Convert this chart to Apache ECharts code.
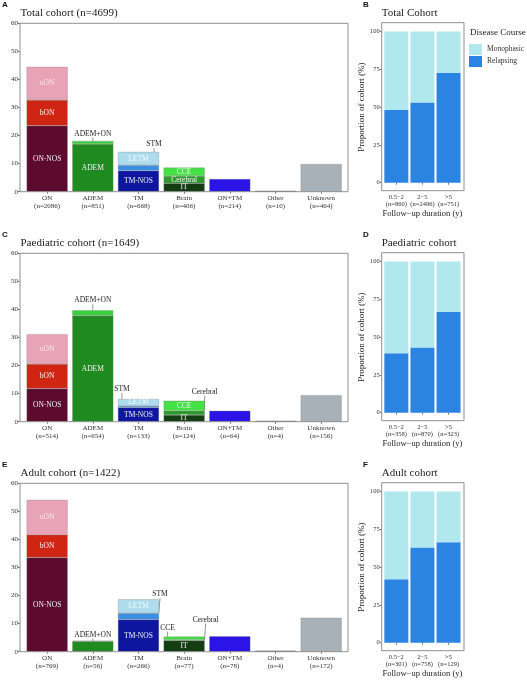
<!DOCTYPE html>
<html>
<head>
<meta charset="utf-8">
<script src="https://cdn.jsdelivr.net/npm/echarts@6/dist/echarts.min.js"></script>
<style>html,body{margin:0;padding:0;background:#fff}#c{width:527px;height:680px}</style>
</head>
<body>
<div id="c"></div>
<script>
// ---- Data ----
const categories = ['ON','ADEM','TM','Brain','ON+TM','Other','Unknown'];
const nTotal = [2086,851,668,406,214,10,464];
const nPaed  = [514,654,133,124,64,4,156];
const nAdult = [769,56,266,77,78,4,172];

const level1Names = ['ON-NOS','ADEM','TM-NOS','IT','ON+TM','Other','Unknown'];
const level2Names = ['bON','ADEM+ON','STM','Cerebral',null,null,null];
const level3Names = ['uON',null,'LETM','CCE',null,null,null];

const totalL1 = [23.5,17.0,7.5,3.0,4.55,0.21,9.87];
const totalL2 = [9.2,1.1,1.9,2.6,null,null,null];
const totalL3 = [11.8,null,4.8,3.0,null,null,null];

const paedL1 = [11.8,37.8,5.1,2.4,3.9,0.24,9.46];
const paedL2 = [8.8,1.9,0.5,1.5,null,null,null];
const paedL3 = [10.6,null,2.5,3.6,null,null,null];

const adultL1 = [33.6,3.7,11.5,4.0,5.5,0.28,12.1];
const adultL2 = [8.1,0.2,2.2,0.3,null,null,null];
const adultL3 = [12.4,null,5.0,1.1,null,null,null];

const durCats = ['0.5\u22122','2\u22125','>5'];
const durNTotal = [860,2496,751];
const durNPaed  = [358,870,323];
const durNAdult = [301,758,129];
const relTotal  = [48.1,53.0,72.8];
const monoTotal = [51.9,47.0,27.2];
const relPaed   = [39.4,43.1,66.7];
const monoPaed  = [60.6,56.9,33.3];
const relAdult  = [42.0,63.0,66.5];
const monoAdult = [58.0,37.0,33.5];

// ---- Styles / layout ----
const segColors = {
  'ON-NOS':'#5C0A2E','bON':'#CF2512','uON':'#E8A3B6',
  'ADEM':'#1F8A1F','ADEM+ON':'#3AD23A',
  'TM-NOS':'#0E16A0','STM':'#3B8FE3','LETM':'#AEDCEC',
  'IT':'#143D14','Cerebral':'#2C9C2C','CCE':'#45E045',
  'ON+TM':'#2A14E6','Other':'#8C8C8C','Unknown':'#A8B1B7'
};
const insideLabelColor = {'uON':'#fbe6ec','LETM':'#f4fbfd','CCE':'#e8fbe8'};
const SERIF = 'Liberation Serif';
const rowOff = [0,230,460];

const rows = [
  {letter:'A', title:'Total cohort (n=4699)', n:nTotal, L:[totalL1,totalL2,totalL3],
   inside:['ON-NOS','bON','uON','ADEM','TM-NOS','LETM','IT','Cerebral','CCE'],
   outside:{'ADEM+ON':['c',0,-7],'STM':['r',-5,-21]},
   rLetter:'B', rTitle:'Total Cohort', rN:durNTotal, rel:relTotal, mono:monoTotal},
  {letter:'C', title:'Paediatric cohort (n=1649)', n:nPaed, L:[paedL1,paedL2,paedL3],
   inside:['ON-NOS','bON','uON','ADEM','TM-NOS','LETM','IT','CCE'],
   outside:{'ADEM+ON':['c',0,-10],'STM':['l',4,-17],'Cerebral':['r',0,-19]},
   rLetter:'D', rTitle:'Paediatric cohort', rN:durNPaed, rel:relPaed, mono:monoPaed},
  {letter:'E', title:'Adult cohort (n=1422)', n:nAdult, L:[adultL1,adultL2,adultL3],
   inside:['ON-NOS','bON','uON','TM-NOS','LETM','IT'],
   outside:{'ADEM+ON':['c',0,-6],'STM':['r',1,-19],'CCE':['l',4,-9],'Cerebral':['r',1,-20]},
   rLetter:'F', rTitle:'Adult cohort', rN:durNAdult, rel:relAdult, mono:monoAdult}
];
const levelNames = [level1Names, level2Names, level3Names];

const grids = [], xAxes = [], yAxes = [], series = [], titles = [], graphics = [];

rows.forEach((row, i) => {
  const off = rowOff[i];
  grids.push({left:24.3, width:319.7, top:23.3+off, height:168.4, containLabel:false, outerBoundsMode:'none'});
  grids.push({left:383.3, width:78.3, top:31.6+off, height:151.1, containLabel:false, outerBoundsMode:'none'});
  const gL = i*2, gR = i*2+1;

  graphics.push({type:'rect', shape:{x:20, y:23.3+off, width:328, height:168.4},
    style:{fill:'none', stroke:'#8f8f8f', lineWidth:1}, silent:true, z:10});
  graphics.push({type:'rect', shape:{x:381.7, y:22.7+off, width:82.3, height:168},
    style:{fill:'none', stroke:'#8f8f8f', lineWidth:1}, silent:true, z:10});

  titles.push({text:row.letter, left:2, top:1+off, padding:0,
    textStyle:{fontFamily:'Liberation Sans', fontWeight:'bold', fontSize:8, color:'#111'}});
  titles.push({text:row.title, left:20.5, top:8+off, padding:0,
    textStyle:{fontFamily:SERIF, fontWeight:'normal', fontSize:11, color:'#222'}});
  titles.push({text:row.rLetter, left:363, top:1+off, padding:0,
    textStyle:{fontFamily:'Liberation Sans', fontWeight:'bold', fontSize:8, color:'#111'}});
  titles.push({text:row.rTitle, left:381.7, top:8+off, padding:0,
    textStyle:{fontFamily:SERIF, fontWeight:'normal', fontSize:11, color:'#222'}});

  xAxes.push({type:'category', gridIndex:gL,
    data: categories.map((c,k)=>c+'\n(n='+row.n[k]+')'),
    axisLine:{show:false}, axisTick:{show:true, alignWithLabel:true, length:2, lineStyle:{color:'#777'}},
    axisLabel:{interval:0, fontFamily:SERIF, fontSize:7, lineHeight:7.8, color:'#333', margin:3}});
  yAxes.push({type:'value', gridIndex:gL, min:0, max:60, interval:10, offset:4.3,
    splitLine:{show:false}, axisLine:{show:false},
    axisTick:{show:true, length:2, lineStyle:{color:'#777'}},
    axisLabel:{fontFamily:SERIF, fontSize:7, color:'#333', margin:2},
    name:'Proportion of cohort (%)', nameLocation:'middle', nameGap:16,
    nameTextStyle:{fontFamily:SERIF, fontSize:9.5, color:'#222'}});

  xAxes.push({type:'category', gridIndex:gR, offset:8,
    data: durCats.map((c,k)=>c+'\n(n='+row.rN[k]+')'),
    axisLine:{show:false}, axisTick:{show:true, alignWithLabel:true, length:2, lineStyle:{color:'#777'}},
    axisLabel:{interval:0, fontFamily:SERIF, fontSize:6.5, lineHeight:7.2, color:'#333', margin:3},
    name:'Follow\u2212up duration (y)', nameLocation:'middle', nameGap:16,
    nameTextStyle:{fontFamily:SERIF, fontSize:8.5, color:'#222'}});
  yAxes.push({type:'value', gridIndex:gR, min:0, max:100, interval:25, offset:1.6,
    splitLine:{show:false}, axisLine:{show:false},
    axisTick:{show:true, length:2, lineStyle:{color:'#777'}},
    axisLabel:{fontFamily:SERIF, fontSize:6.5, color:'#333', margin:2},
    name:'Proportion of cohort (%)', nameLocation:'middle', nameGap:9,
    nameTextStyle:{fontFamily:SERIF, fontSize:9, color:'#222'}});

  row.L.forEach((vals, lv) => {
    const names = levelNames[lv];
    const data = vals.map((v,k) => {
      const nm = names[k];
      if (v == null || nm == null) return '-';
      const inside = row.inside.indexOf(nm) >= 0;
      const out = row.outside[nm];
      const item = {
        value: v, name: nm,
        itemStyle: {color: segColors[nm]},
        label: {show: inside || !!out, position: inside ? 'inside' : 'top',
          color: inside ? (insideLabelColor[nm] || '#f2f2f2') : '#222',
          fontSize: 7.5},
        labelLine: {show: !!out}
      };
      if (nm === 'Other') { item.itemStyle.borderColor = '#6f6f6f'; item.itemStyle.borderWidth = 0.9; }
      return item;
    });
    series.push({
      type:'bar', name:'L'+i+'_'+lv, xAxisIndex:gL, yAxisIndex:gL, stack:'L'+i,
      barCategoryGap:'10%', data,
      itemStyle:{borderColor:'rgba(120,120,120,0.6)', borderWidth:0.5},
      label:{show:false, fontFamily:SERIF, formatter:(p)=>p.data.name},
      labelLine:{show:false, lineStyle:{color:'#666', width:0.7}},
      labelLayout:(p) => {
        const item = data[p.dataIndex];
        if (!item || typeof item !== 'object') return {};
        const out = row.outside[item.name];
        if (!out) return {};
        const r = p.rect;
        const ax = out[0]==='c' ? r.x + r.width/2 : (out[0]==='r' ? r.x + r.width : r.x);
        return {x: ax + out[1], y: r.y + out[2], align:'center', verticalAlign:'middle'};
      },
      emphasis:{disabled:true}, animation:false
    });
  });

  series.push({type:'bar', name:'Relapsing', xAxisIndex:gR, yAxisIndex:gR, stack:'R'+i,
    barCategoryGap:'8%', data: row.rel, itemStyle:{color:'#2B84E1'}, emphasis:{disabled:true}, animation:false});
  series.push({type:'bar', name:'Monophasic', xAxisIndex:gR, yAxisIndex:gR, stack:'R'+i,
    barCategoryGap:'8%', data: row.mono, itemStyle:{color:'#B0E8EE'}, emphasis:{disabled:true}, animation:false});
});

graphics.push({type:'text', left:470, top:28, silent:true,
  style:{text:'Disease Course', font:'9px "Liberation Serif"', fill:'#222'}});

const chart = echarts.init(document.getElementById('c'), null, {renderer:'canvas'});
chart.setOption({
  animation:false,
  backgroundColor:'#fff',
  title: titles,
  grid: grids,
  xAxis: xAxes,
  yAxis: yAxes,
  legend: {data:['Monophasic','Relapsing'], orient:'vertical', left:469, top:44, padding:0,
    itemWidth:13, itemHeight:11, itemGap:1, icon:'rect', selectedMode:false,
    textStyle:{fontFamily:SERIF, fontSize:7.5, color:'#333'}},
  graphic: graphics,
  series: series
});
</script>
</body>
</html>
